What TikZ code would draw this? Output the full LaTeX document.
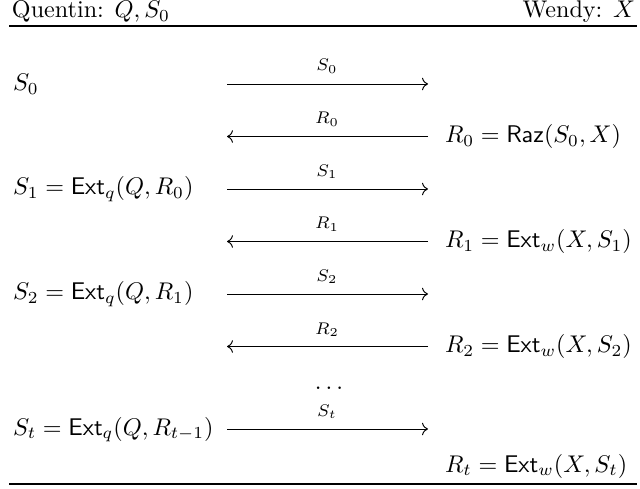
\documentclass[tikz,border=0pt]{standalone}
\usetikzlibrary{arrows.meta}
\begin{document}
\begin{tikzpicture}[x=0.4144pt,y=-0.4144pt,
  txt/.style={inner sep=0pt,outer sep=0pt},
  lbl/.style={inner sep=0pt,outer sep=0pt,anchor=base,font=\scriptsize},
  msg/.style={line width=0.4pt,-{Computer Modern Rightarrow}},
  rulestyle/.style={line width=0.8pt}]
\useasboundingbox (0,0) rectangle (640,489);
% header
\node[txt,anchor=base west] (hq) at (12,18) {Quentin: $Q, S_0$};
\node[txt,anchor=base east] (hw) at (635,18) {Wendy: $X$};
\coordinate (tl) at (9,26); \coordinate (tr) at (637,26);
\draw[rulestyle] (tl) -- (tr);
\coordinate (bl) at (9,484); \coordinate (br) at (637,484);
\draw[rulestyle] (bl) -- (br);
% left column
\node[txt,anchor=base west] (q0) at (13,90.5) {$S_0$};
\node[txt,anchor=base west] (q1) at (13,195) {$S_1 = \mathsf{Ext}_q(Q, R_0)$};
\node[txt,anchor=base west] (q2) at (13,300) {$S_2 = \mathsf{Ext}_q(Q, R_1)$};
\node[txt,anchor=base west] (qt) at (13,435) {$S_t = \mathsf{Ext}_q(Q, R_{t-1})$};
% right column
\node[txt,anchor=base west] (w0) at (445,142.5) {$R_0 = \mathsf{Raz}(S_0, X)$};
\node[txt,anchor=base west] (w1) at (445,247.5) {$R_1 = \mathsf{Ext}_w(X, S_1)$};
\node[txt,anchor=base west] (w2) at (445,352.5) {$R_2 = \mathsf{Ext}_w(X, S_2)$};
\node[txt,anchor=base west] (wt) at (445,472) {$R_t = \mathsf{Ext}_w(X, S_t)$};
% arrow end points
\coordinate (l0) at (227,84);    \coordinate (r0) at (428,84);
\coordinate (l1) at (227,136.5); \coordinate (r1) at (428,136.5);
\coordinate (l2) at (227,189);   \coordinate (r2) at (428,189);
\coordinate (l3) at (227,241.5); \coordinate (r3) at (428,241.5);
\coordinate (l4) at (227,294);   \coordinate (r4) at (428,294);
\coordinate (l5) at (227,346.5); \coordinate (r5) at (428,346.5);
\coordinate (l6) at (227,429);   \coordinate (r6) at (428,429);
\draw[msg] (l0) -- (r0);
\draw[msg] (r1) -- (l1);
\draw[msg] (l2) -- (r2);
\draw[msg] (r3) -- (l3);
\draw[msg] (l4) -- (r4);
\draw[msg] (r5) -- (l5);
\draw[msg] (l6) -- (r6);
% labels
\node[lbl] (m0) at (327,71) {$S_0$};
\node[lbl] (m1) at (327,124) {$R_0$};
\node[lbl] (m2) at (327,176.5) {$S_1$};
\node[lbl] (m3) at (327,229) {$R_1$};
\node[lbl] (m4) at (327,281.5) {$S_2$};
\node[lbl] (m5) at (327,334) {$R_2$};
\node[lbl] (m6) at (327,416) {$S_t$};
\node[txt,anchor=base] (dots) at (329,389) {$\dots$};
\end{tikzpicture}
\end{document}
